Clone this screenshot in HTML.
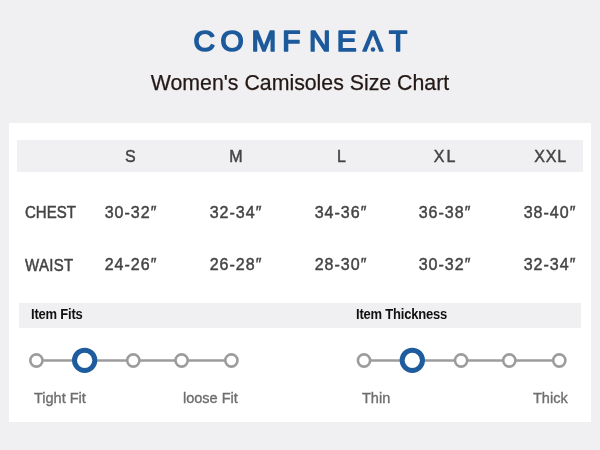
<!DOCTYPE html>
<html>
<head>
<meta charset="utf-8">
<style>
*{margin:0;padding:0;box-sizing:border-box}
html,body{width:600px;height:450px;overflow:hidden;background:#f0f0f2}
body{position:relative;font-family:"Liberation Sans",Arial,sans-serif}
.abs{position:absolute;white-space:nowrap;line-height:1}
.title{left:0;top:72.5px;width:600px;text-align:center;color:#231815;font-size:21.3px;-webkit-text-stroke:0.25px #231815}
.card{position:absolute;left:9px;top:123px;width:582px;height:299px;background:#fff}
.band{position:absolute;background:#f0f0f2}
.hd{color:#444;-webkit-text-stroke:0.45px #444;font-size:16px;text-align:center;width:80px;letter-spacing:2px}
.rl{color:#444;-webkit-text-stroke:0.45px #444;font-size:15px;left:25px;transform:scaleY(1.1);transform-origin:0 0}
.v{color:#444;-webkit-text-stroke:0.45px #444;font-size:16px;text-align:center;width:80px;letter-spacing:1px}
.sec{color:#111;font-weight:bold;font-size:13px;letter-spacing:-0.2px;transform:scaleY(1.1);transform-origin:0 0}
.lab{color:#6e6e6e;-webkit-text-stroke:0.35px #6e6e6e;font-size:14.5px}
</style>
</head>
<body>
<svg style="position:absolute;left:0;top:0" width="600" height="70"><text x="204.35 232.2 264 291.35 319.8 346.7 373 398.15" y="51.1" text-anchor="middle" font-family="Liberation Sans, Arial, sans-serif" font-size="29.8" fill="#1d5a9b" stroke="#1d5a9b" stroke-width="1.7" stroke-linejoin="round">COMFNEAT</text><polygon points="370.9,41.3 375.1,41.3 377.1,46.1 368.9,46.1" fill="#f0f0f2"/><circle cx="373" cy="49.5" r="2.3" fill="#1d5a9b"/></svg>
<div class="abs title">Women's Camisoles Size Chart</div>
<div class="card"></div>
<div class="band" style="left:17px;top:140px;width:566px;height:32px"></div>
<div class="band" style="left:19px;top:303px;width:562px;height:25px"></div>

<div class="abs hd" style="left:91.3px;top:149px">S</div>
<div class="abs hd" style="left:196.9px;top:149px">M</div>
<div class="abs hd" style="left:302.4px;top:149px">L</div>
<div class="abs hd" style="left:405.5px;top:149px">XL</div>
<div class="abs hd" style="left:510.6px;top:149px;letter-spacing:0.8px">XXL</div>

<div class="abs rl" style="top:204px">CHEST</div>
<div class="abs rl" style="top:257px;letter-spacing:0.3px">WAIST</div>

<div class="abs v" style="left:91px;top:205px">30-32″</div>
<div class="abs v" style="left:196px;top:205px">32-34″</div>
<div class="abs v" style="left:301px;top:205px">34-36″</div>
<div class="abs v" style="left:405px;top:205px">36-38″</div>
<div class="abs v" style="left:510px;top:205px">38-40″</div>

<div class="abs v" style="left:91px;top:257px">24-26″</div>
<div class="abs v" style="left:196px;top:257px">26-28″</div>
<div class="abs v" style="left:301px;top:257px">28-30″</div>
<div class="abs v" style="left:405px;top:257px">30-32″</div>
<div class="abs v" style="left:510px;top:257px">32-34″</div>

<div class="abs sec" style="left:31px;top:307px">Item Fits</div>
<div class="abs sec" style="left:356px;top:307px">Item Thickness</div>

<svg style="position:absolute;left:0;top:0" width="600" height="450">
  <g stroke="#9c9c9c" stroke-width="2.3">
    <line x1="36.4" y1="360.5" x2="231.4" y2="360.5"/>
    <line x1="364" y1="360.5" x2="559.3" y2="360.5"/>
  </g>
  <g fill="#fff" stroke="#9c9c9c" stroke-width="2.6">
    <circle cx="36.4" cy="360.5" r="6.1"/>
    <circle cx="133.3" cy="360.5" r="6.1"/>
    <circle cx="181.6" cy="360.5" r="6.1"/>
    <circle cx="231.4" cy="360.5" r="6.1"/>
    <circle cx="364" cy="360.5" r="6.1"/>
    <circle cx="461.1" cy="360.5" r="6.1"/>
    <circle cx="509.3" cy="360.5" r="6.1"/>
    <circle cx="559.3" cy="360.5" r="6.1"/>
  </g>
  <g fill="#fff" stroke="#1e5c9e" stroke-width="5">
    <circle cx="84.65" cy="360.3" r="10.15"/>
    <circle cx="412.3" cy="360.3" r="10.15"/>
  </g>
</svg>

<div class="abs lab" style="left:34px;top:390.5px">Tight Fit</div>
<div class="abs lab" style="left:183px;top:390.5px">loose Fit</div>
<div class="abs lab" style="left:362px;top:390.5px">Thin</div>
<div class="abs lab" style="left:533px;top:390.5px">Thick</div>
</body>
</html>
